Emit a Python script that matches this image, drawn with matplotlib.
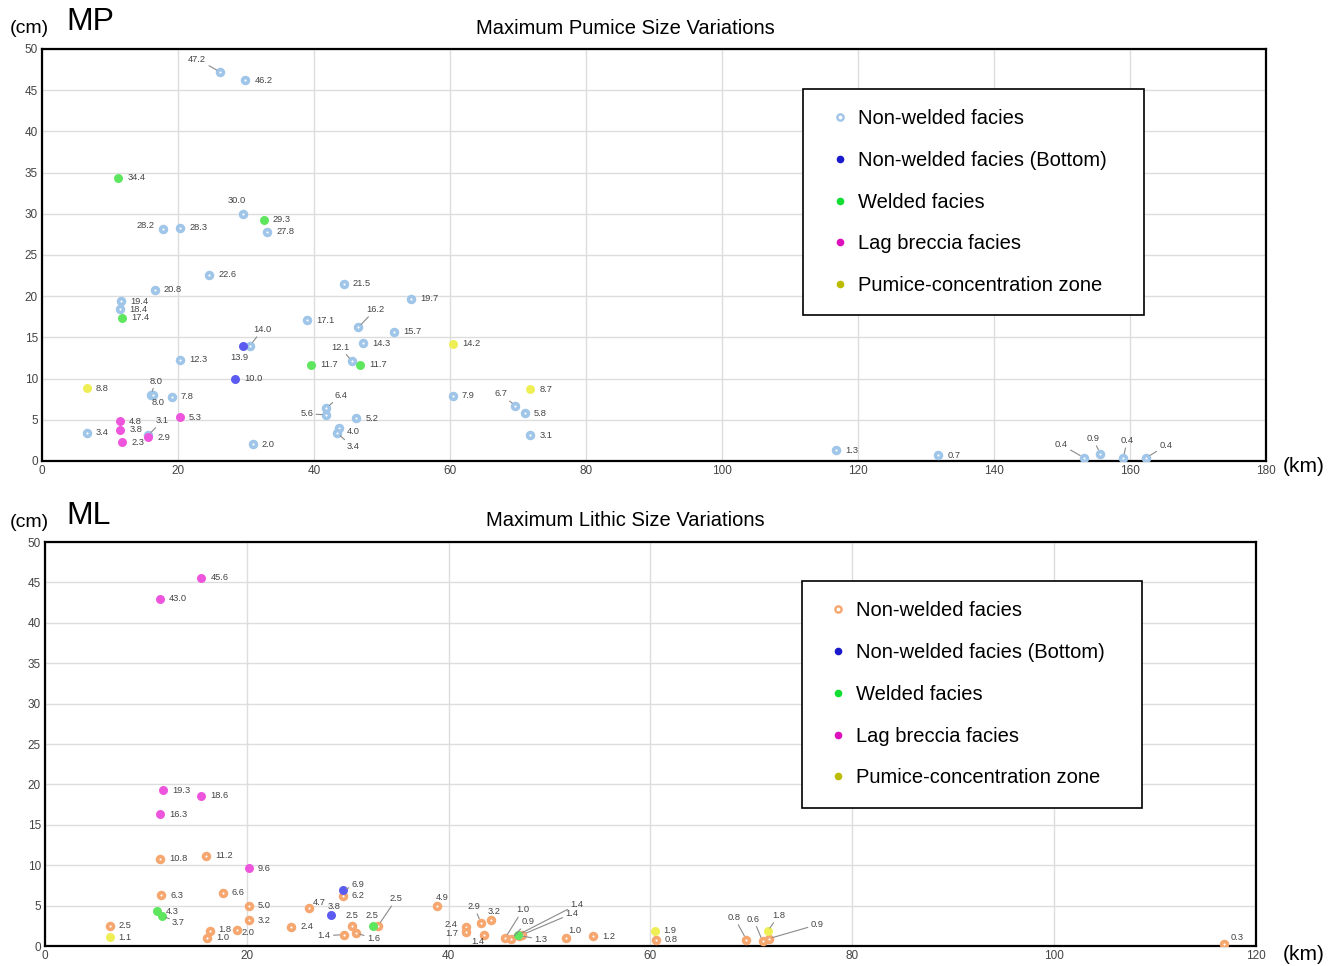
import matplotlib.pyplot as plt
from matplotlib.lines import Line2D

plt.rcParams['font.family'] = ['Liberation Sans', 'DejaVu Sans']

# ---------------- MP: maximum pumice size (km, cm) ----------------
mp_nw_x = [26.2, 29.9, 29.6, 17.8, 20.3, 33.1, 24.6, 16.6, 44.4, 54.3, 11.6, 11.5, 39.0, 46.5,
           51.8, 47.2, 30.6, 20.3, 45.6, 16.0, 16.3, 19.1, 60.4, 69.6, 71.0, 41.8, 41.8, 46.2,
           43.7, 43.4, 6.6, 71.8, 31.0, 15.6, 116.8, 131.8, 153.2, 155.6, 159.0, 162.4]
mp_nw_y = [47.2, 46.2, 30.0, 28.2, 28.3, 27.8, 22.6, 20.8, 21.5, 19.7, 19.4, 18.4, 17.1, 16.2,
           15.7, 14.3, 14.0, 12.3, 12.1, 8.0, 8.0, 7.8, 7.9, 6.7, 5.8, 6.4, 5.6, 5.2,
           4.0, 3.4, 3.4, 3.1, 2.0, 3.1, 1.3, 0.7, 0.4, 0.9, 0.4, 0.4]
mp_bot_x = [29.6, 28.4]
mp_bot_y = [13.9, 10.0]
mp_wel_x = [11.2, 32.6, 11.8, 39.6, 46.8]
mp_wel_y = [34.4, 29.3, 17.4, 11.7, 11.7]
mp_lag_x = [11.5, 11.5, 11.8, 15.6, 20.3]
mp_lag_y = [4.8, 3.8, 2.3, 2.9, 5.3]
mp_pcz_x = [6.6, 60.4, 71.8]
mp_pcz_y = [8.8, 14.2, 8.7]

# ---------------- ML: maximum lithic size ----------------
ml_nw_x = [11.4, 16.0, 11.5, 17.6, 20.2, 20.2, 6.4, 16.4, 16.1, 19.0, 26.2, 24.4, 29.5, 30.4,
           29.6, 30.8, 33.0, 38.8, 41.7, 41.7, 43.2, 44.2, 43.5, 45.6, 46.2, 47.0, 47.3, 51.6,
           54.3, 60.5, 69.5, 71.1, 71.7, 116.8]
ml_nw_y = [10.8, 11.2, 6.3, 6.6, 5.0, 3.2, 2.5, 1.8, 1.0, 2.0, 4.7, 2.4, 6.2, 2.5,
           1.4, 1.6, 2.5, 4.9, 2.4, 1.7, 2.9, 3.2, 1.4, 1.0, 0.9, 1.3, 1.4, 1.0,
           1.2, 0.8, 0.8, 0.6, 0.9, 0.3]
ml_bot_x = [29.5, 28.3]
ml_bot_y = [6.9, 3.8]
ml_wel_x = [11.1, 11.6, 32.5, 46.9]
ml_wel_y = [4.3, 3.7, 2.5, 1.4]
ml_lag_x = [15.5, 11.4, 11.7, 15.5, 11.4, 20.2]
ml_lag_y = [45.6, 43.0, 19.3, 18.6, 16.3, 9.6]
ml_pcz_x = [6.4, 60.4, 71.6]
ml_pcz_y = [1.1, 1.9, 1.8]

legend_names = ['Non-welded facies', 'Non-welded facies (Bottom)', 'Welded facies',
                'Lag breccia facies', 'Pumice-concentration zone']

# label placement: (dx px, dy px, ha, leader line)
R = (9, 0, 'left', False)
mp_nw_off = [(-14, 13, 'right', True), R, (-7, 13, 'center', False), (-9, 3, 'right', False),
             R, R, R, R, R, R, R, R, R, (8, 18, 'left', True),
             R, R, (3, 16, 'left', True), R, (-3, 14, 'right', True), (5, 14, 'center', True),
             (5, -7, 'center', False), R, R, (-8, 12, 'right', True), R, (8, 13, 'left', True),
             (-13, 1, 'right', True), R, (8, -3, 'left', False), (9, -14, 'left', True), R, R, R,
             (8, 15, 'left', True), R, R, (-16, 13, 'right', True), (-7, 15, 'center', True),
             (4, 17, 'center', True), (13, 12, 'left', True)]
mp_bot_off = [(-4, -11, 'center', False), R]
ml_nw_off = [R, R, R, R, R, R, R, (8, 2, 'left', False), R, (5, -3, 'left', False),
             (3, 6, 'left', False), R, R, (0, 10, 'center', False), (-13, -1, 'right', True),
             (11, -5, 'left', True), (12, 27, 'left', True), (6, 9, 'center', False),
             (-8, 2, 'right', False), (-8, -1, 'right', False), (-7, 16, 'center', True),
             (3, 9, 'center', False), (-6, -7, 'center', False), (11, 28, 'left', True),
             (10, 17, 'left', True), (15, -4, 'left', True), (43, 21, 'left', True),
             (3, 7, 'left', False), R, R, (-12, 22, 'center', True), (-9, 22, 'center', True),
             (42, 14, 'left', True), (7, 6, 'left', False)]
ml_bot_off = [(9, 6, 'left', True), (3, 9, 'center', False)]
ml_wel_off = [R, (10, -6, 'left', True), (-1, 10, 'center', False), (52, 30, 'left', True)]
ml_pcz_off = [R, R, (11, 16, 'center', True)]

pt_colors = ['#9fc5e8', '#5b5bf0', '#5ee65e', '#ee55dd', '#eeee55']
leg_colors = ['#9fc5e8', '#1a1acc', '#11dd33', '#dd11bb', '#bbbb00']
lith_color = '#f6a66f'


def label_points(ax, xs, ys, offs=None):
    for i, (x, y) in enumerate(zip(xs, ys)):
        dx, dy, ha, leader = offs[i] if offs else R
        props = None
        if leader:
            props = dict(arrowstyle='-', color='#8a8a8a', lw=0.8, shrinkA=0, shrinkB=3)
        ax.annotate(f"{y:.1f}", (x, y), xytext=(dx, dy), textcoords='offset pixels',
                    ha=ha, va='center', fontsize=6.7, color='#444444', arrowprops=props,
                    zorder=5)


def setup_axes(ax, xmax):
    ax.set_xlim(0, xmax)
    ax.set_ylim(0, 50)
    ax.set_xticks(range(0, xmax + 1, 20))
    ax.set_yticks(range(0, 51, 5))
    ax.grid(True, color='#dddddd', lw=1)
    ax.set_axisbelow(True)
    ax.tick_params(length=0, pad=3, labelsize=8.5, labelcolor='#444444')
    for s in ax.spines.values():
        s.set_linewidth(1.6)
        s.set_color('black')


def draw_panel(ax, nw_color, series, offsets):
    nw, bot, wel, lag, pcz = series
    ax.scatter(nw[0], nw[1], s=18, facecolor='white', edgecolor=nw_color, lw=2.6, zorder=3)
    ax.scatter(bot[0], bot[1], s=42, color=pt_colors[1], lw=0, zorder=4)
    ax.scatter(wel[0], wel[1], s=42, color=pt_colors[2], lw=0, zorder=4)
    ax.scatter(lag[0], lag[1], s=42, color=pt_colors[3], lw=0, zorder=4)
    ax.scatter(pcz[0], pcz[1], s=42, color=pt_colors[4], lw=0, zorder=4)
    for (xs, ys), off in zip(series, offsets):
        label_points(ax, xs, ys, off)


def add_legend(ax, nw_color, anchor):
    handles = [Line2D([], [], ls='', marker='o', markersize=4.5, markerfacecolor='white',
                      markeredgecolor=nw_color, markeredgewidth=1.7)]
    for c in leg_colors[1:]:
        handles.append(Line2D([], [], ls='', marker='o', markersize=4.5, color=c))
    leg = ax.legend(handles, legend_names, loc='upper left', bbox_to_anchor=anchor,
                    mode='expand', fontsize=14.5, frameon=True, fancybox=False,
                    edgecolor='black', framealpha=1, borderpad=1.0, labelspacing=1.13,
                    handlelength=1.6, handletextpad=0.1, borderaxespad=0)
    leg.get_frame().set_linewidth(1.2)


fig = plt.figure(figsize=(13.39, 9.66), dpi=100)

ax1 = fig.add_axes([0.0314, 0.5228, 0.9141, 0.4265])
setup_axes(ax1, 180)
draw_panel(ax1, pt_colors[0],
           [(mp_nw_x, mp_nw_y), (mp_bot_x, mp_bot_y), (mp_wel_x, mp_wel_y),
            (mp_lag_x, mp_lag_y), (mp_pcz_x, mp_pcz_y)],
           [mp_nw_off, mp_bot_off, None, None, None])
add_legend(ax1, pt_colors[0], (0.622, 0.903, 0.278, 0.0))

ax2 = fig.add_axes([0.0336, 0.0207, 0.9044, 0.4182])
setup_axes(ax2, 120)
draw_panel(ax2, lith_color,
           [(ml_nw_x, ml_nw_y), (ml_bot_x, ml_bot_y), (ml_wel_x, ml_wel_y),
            (ml_lag_x, ml_lag_y), (ml_pcz_x, ml_pcz_y)],
           [ml_nw_off, ml_bot_off, ml_wel_off, None, ml_pcz_off])
add_legend(ax2, lith_color, (0.625, 0.903, 0.281, 0.0))

# titles and axis units
fig.text(0.4668, 0.971, 'Maximum Pumice Size Variations', ha='center', va='center', fontsize=14.5)
fig.text(0.0075, 0.970, '(cm)', ha='left', va='center', fontsize=14)
fig.text(0.0493, 0.977, 'MP', ha='left', va='center', fontsize=23)
fig.text(0.958, 0.5166, '(km)', ha='left', va='center', fontsize=15)

fig.text(0.4668, 0.4607, 'Maximum Lithic Size Variations', ha='center', va='center', fontsize=14.5)
fig.text(0.0075, 0.4586, '(cm)', ha='left', va='center', fontsize=14)
fig.text(0.0493, 0.4659, 'ML', ha='left', va='center', fontsize=23)
fig.text(0.958, 0.0114, '(km)', ha='left', va='center', fontsize=15)

fig.savefig('out.png', dpi=100)
